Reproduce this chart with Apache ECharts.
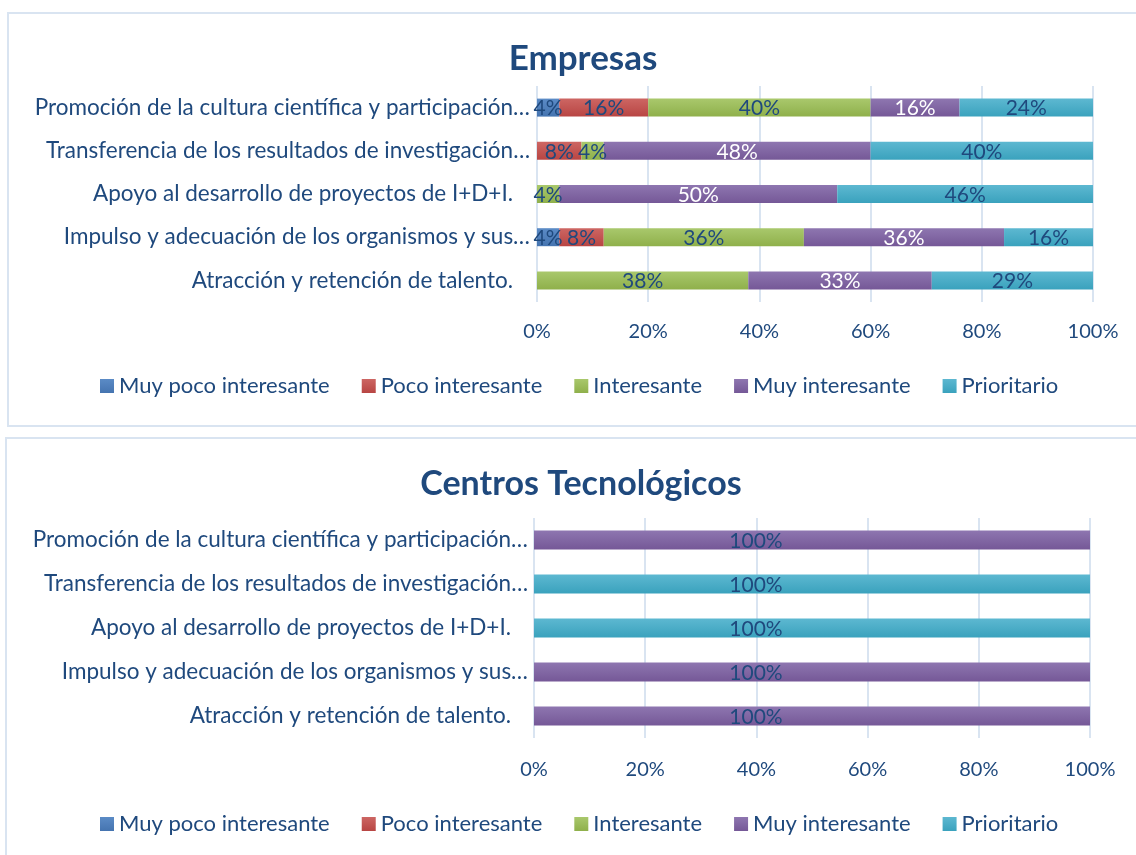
<!DOCTYPE html>
<html>
<head>
<meta charset="utf-8">
<script src="https://cdn.jsdelivr.net/npm/echarts@6/dist/echarts.min.js"></script>
<style>
  html, body { margin: 0; padding: 0; background: #ffffff; }
  #wrap { position: relative; width: 1136px; height: 855px; overflow: hidden; }
  .panel { position: absolute; border: 2px solid #d9e4f1; background: #fff; }
  #chart { position: absolute; left: 0; top: 0; width: 1136px; height: 855px; }
</style>
</head>
<body>
<div id="wrap">
  <div class="panel" style="left:7px; top:12px; width:1140px; height:411px;"></div>
  <div class="panel" style="left:5px; top:437px; width:1140px; height:430px;"></div>
  <div id="chart"></div>
</div>
<script>
// Categories, listed top to bottom
const categories = [
  'Promoción de la cultura científica y participación…',
  'Transferencia de los resultados de investigación…',
  'Apoyo al desarrollo de proyectos de I+D+I.',
  'Impulso y adecuación de los organismos y sus…',
  'Atracción y retención de talento.'
];
const levels = ['Muy poco interesante', 'Poco interesante', 'Interesante', 'Muy interesante', 'Prioritario'];
const xTicks = [0, 20, 40, 60, 80, 100];

// Empresas (%)
const empMuyPoco   = [4, 0, 0, 4, 0];
const empPoco      = [16, 8, 0, 8, 0];
const empInteres   = [40, 4, 4, 36, 38];
const empMuyInter  = [16, 48, 50, 36, 33];
const empPriorit   = [24, 40, 46, 16, 29];

// Centros Tecnológicos (%)
const ctMuyPoco    = [0, 0, 0, 0, 0];
const ctPoco       = [0, 0, 0, 0, 0];
const ctInteres    = [0, 0, 0, 0, 0];
const ctMuyInter   = [100, 0, 0, 100, 100];
const ctPriorit    = [0, 100, 100, 0, 0];

const FONT = 'Lato';
const DARK = '#1f497d';
const GRID_LINE = '#d9e4f1';
const CAT_SIZE = 22.5;

// top-light / bottom-dark fill for each level
const fills = [
  ['#5b8bc6', '#4574b0'],
  ['#cd6663', '#b84543'],
  ['#a9c86c', '#8fb04b'],
  ['#8e76b0', '#755897'],
  ['#5db8d1', '#3aa2bd']
];
function grad(i) {
  return new echarts.graphic.LinearGradient(0, 0, 0, 1, [
    { offset: 0, color: fills[i][0] },
    { offset: 1, color: fills[i][1] }
  ]);
}

const empData = [empMuyPoco, empPoco, empInteres, empMuyInter, empPriorit];
const ctData = [ctMuyPoco, ctPoco, ctInteres, ctMuyInter, ctPriorit];

function makeSeries(dataSets, gi, barW, whiteOnPurple, labelOffset) {
  return dataSets.map((vals, i) => ({
    name: levels[i],
    type: 'bar',
    stack: 'g' + gi,
    xAxisIndex: gi,
    yAxisIndex: gi,
    barWidth: barW,
    data: vals,
    itemStyle: { color: grad(i) },
    label: {
      show: true,
      position: 'inside',
      offset: labelOffset,
      fontFamily: FONT,
      fontSize: 21,
      color: (whiteOnPurple && i === 3) ? '#ffffff' : DARK,
      formatter: p => (p.value ? p.value + '%' : '')
    },
    emphasis: { disabled: true }
  }));
}

function xAxis(gi, margin) {
  return {
    type: 'value', gridIndex: gi, min: 0, max: 100, interval: 20,
    axisLine: { show: false }, axisTick: { show: false },
    splitLine: { show: true, lineStyle: { color: GRID_LINE, width: 2 } },
    axisLabel: { color: DARK, fontFamily: FONT, fontSize: 20, margin: margin,
      formatter: v => (xTicks.indexOf(v) >= 0 ? v + '%' : '') }
  };
}
function yAxis(gi, margin) {
  return {
    type: 'category', gridIndex: gi, data: categories, inverse: true,
    axisLine: { show: false }, axisTick: { show: false },
    axisLabel: {
      color: DARK, fontFamily: FONT, fontSize: CAT_SIZE, margin: margin,
      // complete names sit a little further from the axis than truncated ones
      formatter: v => (v.endsWith('…') ? '{t|' + v + '}' : '{f|' + v + '}'),
      rich: {
        t: { color: DARK, fontFamily: FONT, fontSize: CAT_SIZE },
        f: { color: DARK, fontFamily: FONT, fontSize: CAT_SIZE, padding: [0, 17, 0, 0] }
      }
    }
  };
}

function legend(top) {
  return {
    top: top, left: 95, itemWidth: 14, itemHeight: 14, itemGap: 32,
    icon: 'rect', data: levels, selectedMode: false,
    textStyle: { color: DARK, fontFamily: FONT, fontSize: 22 }
  };
}

const chart = echarts.init(document.getElementById('chart'), null, { renderer: 'canvas' });
chart.setOption({
  animation: false,
  title: [
    { text: 'Empresas', left: 578, top: 36, textAlign: 'center',
      textStyle: { color: DARK, fontFamily: FONT, fontSize: 35, fontWeight: 'bold' } },
    { text: 'Centros Tecnológicos', left: 576, top: 462, textAlign: 'center',
      textStyle: { color: DARK, fontFamily: FONT, fontSize: 34, fontWeight: 'bold' } }
  ],
  legend: [legend(370), legend(808)],
  grid: [
    { left: 537, right: 43, top: 86, height: 216 },
    { left: 534, right: 46, top: 518, height: 220 }
  ],
  xAxis: [xAxis(0, 20), xAxis(1, 22)],
  yAxis: [yAxis(0, 7), yAxis(1, 6)],
  series: [].concat(
    makeSeries(empData, 0, 18, true, [0, 1]),
    makeSeries(ctData, 1, 19, false, [-56, 1])
  )
});
</script>
</body>
</html>
